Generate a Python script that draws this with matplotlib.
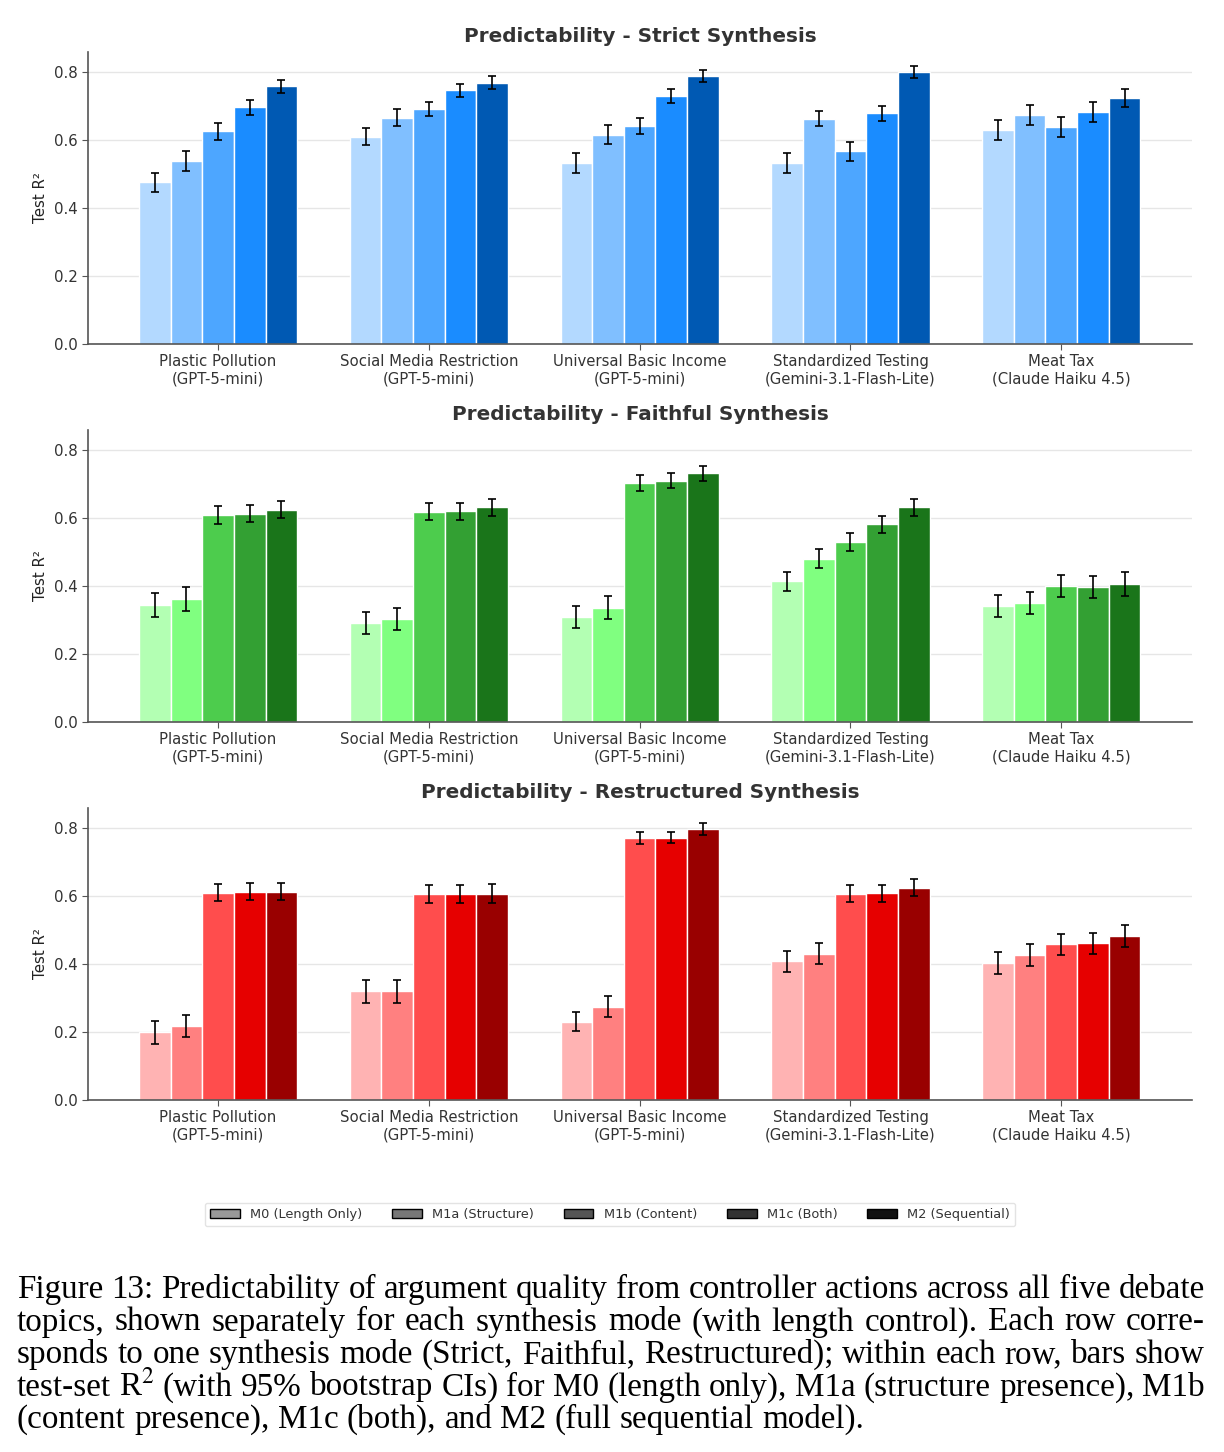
import numpy as np
import matplotlib
matplotlib.use("Agg")
import matplotlib.pyplot as plt
from matplotlib.patches import Patch

plt.rcParams['font.family'] = ['DejaVu Sans']
plt.rcParams['mathtext.fontset'] = 'stix'

# ---------------- data ----------------
topics = ["Plastic Pollution\n(GPT-5-mini)",
          "Social Media Restriction\n(GPT-5-mini)",
          "Universal Basic Income\n(GPT-5-mini)",
          "Standardized Testing\n(Gemini-3.1-Flash-Lite)",
          "Meat Tax\n(Claude Haiku 4.5)"]
models = ["M0 (Length Only)", "M1a (Structure)", "M1b (Content)", "M1c (Both)", "M2 (Sequential)"]
modes = ["Strict", "Faithful", "Restructured"]

# values[model][topic]
strict_vals = [
    [0.476, 0.611, 0.534, 0.534, 0.630],
    [0.538, 0.667, 0.617, 0.664, 0.675],
    [0.626, 0.693, 0.643, 0.567, 0.640],
    [0.697, 0.747, 0.730, 0.679, 0.683],
    [0.759, 0.770, 0.789, 0.800, 0.725],
]
strict_err = [
    [0.027, 0.026, 0.030, 0.029, 0.029],
    [0.029, 0.025, 0.028, 0.023, 0.029],
    [0.024, 0.021, 0.024, 0.029, 0.029],
    [0.023, 0.020, 0.020, 0.023, 0.029],
    [0.019, 0.018, 0.018, 0.018, 0.027],
]
faithful_vals = [
    [0.344, 0.292, 0.309, 0.415, 0.341],
    [0.362, 0.303, 0.337, 0.481, 0.350],
    [0.609, 0.619, 0.703, 0.531, 0.400],
    [0.614, 0.621, 0.711, 0.582, 0.397],
    [0.625, 0.632, 0.732, 0.632, 0.407],
]
faithful_err = [
    [0.035, 0.033, 0.033, 0.028, 0.033],
    [0.035, 0.032, 0.034, 0.028, 0.033],
    [0.026, 0.025, 0.023, 0.027, 0.032],
    [0.026, 0.025, 0.022, 0.026, 0.033],
    [0.025, 0.025, 0.022, 0.024, 0.036],
]
restructured_vals = [
    [0.199, 0.320, 0.230, 0.409, 0.404],
    [0.219, 0.320, 0.275, 0.431, 0.427],
    [0.610, 0.607, 0.772, 0.607, 0.459],
    [0.613, 0.607, 0.773, 0.609, 0.461],
    [0.614, 0.608, 0.798, 0.625, 0.483],
]
restructured_err = [
    [0.033, 0.034, 0.028, 0.031, 0.032],
    [0.032, 0.034, 0.031, 0.031, 0.033],
    [0.025, 0.026, 0.017, 0.025, 0.031],
    [0.025, 0.026, 0.016, 0.025, 0.031],
    [0.025, 0.027, 0.017, 0.025, 0.031],
]

blue_colors = ["#b3d9ff", "#80bfff", "#4da6ff", "#1a8cff", "#0059b3"]
green_colors = ["#b3ffb3", "#80ff80", "#4dcc4d", "#33a033", "#1a751a"]
red_colors = ["#ffb3b3", "#ff8080", "#ff4d4d", "#e60000", "#990000"]
legend_colors = ["#999999", "#777777", "#555555", "#333333", "#111111"]

caption_lines = [
    "Figure 13: Predictability of argument quality from controller actions across all five debate",
    "topics, shown separately for each synthesis mode (with length control).  Each row corre-",
    "sponds to one synthesis mode (Strict, Faithful, Restructured); within each row, bars show",
    "test-set R$^2$ (with 95% bootstrap CIs) for M0 (length only), M1a (structure presence), M1b",
    "(content presence), M1c (both), and M2 (full sequential model).",
]

# ---------------- figure ----------------
W, H = 1224, 1452
fig = plt.figure(figsize=(W / 100, H / 100), dpi=100)

panels = [
    (strict_vals, strict_err, blue_colors, 344),
    (faithful_vals, faithful_err, green_colors, 722),
    (restructured_vals, restructured_err, red_colors, 1100),
]
ax_left, ax_right, ax_hpx = 88, 1192, 292
x = np.arange(len(topics))
bw = 0.15
spine_c = "#555555"
text_c = "#333333"

for (vals, errs, cols, bottom_px), mode in zip(panels, modes):
    ax = fig.add_axes([ax_left / W, 1 - bottom_px / H, (ax_right - ax_left) / W, ax_hpx / H])
    for i in range(len(models)):
        ax.bar(x + (i - 2) * bw, vals[i], bw, color=cols[i], edgecolor="white",
               linewidth=1.0, zorder=2)
        ax.errorbar(x + (i - 2) * bw, vals[i], yerr=errs[i], fmt="none",
                    ecolor="black", elinewidth=1.2, capsize=3, capthick=1.2, zorder=3)
    ax.set_ylim(0, 0.86)
    ax.set_xlim(-0.617, 4.62)
    ax.set_yticks([0.0, 0.2, 0.4, 0.6, 0.8])
    ax.set_xticks(x)
    ax.set_xticklabels(topics, fontsize=10.7, color=text_c)
    ax.tick_params(axis="y", labelsize=10.8, colors=spine_c, labelcolor=text_c, length=4)
    ax.tick_params(axis="x", colors=spine_c, labelcolor=text_c, length=4)
    ax.set_ylabel("Test R²", fontsize=10.8, color="#222222")
    ax.set_title(f"Predictability - {mode} Synthesis", fontsize=14.4, fontweight="bold",
                 color=text_c, pad=7)
    ax.grid(axis="y", color="#e6e6e6", linewidth=1.0, zorder=0)
    ax.set_axisbelow(True)
    for s in ["top", "right"]:
        ax.spines[s].set_visible(False)
    for s in ["left", "bottom"]:
        ax.spines[s].set_color(spine_c)
        ax.spines[s].set_linewidth(1.2)

handles = [Patch(facecolor=c, edgecolor="black", linewidth=1.0, label=m)
           for c, m in zip(legend_colors, models)]
fig.legend(handles=handles, loc="center", bbox_to_anchor=(0.4985, 1 - 1214.5 / H),
           ncol=5, fontsize=9.3, frameon=True, edgecolor="#dddddd", fancybox=True,
           handlelength=2.3, handleheight=0.7, columnspacing=2.3, borderpad=0.4,
           handletextpad=0.8, labelcolor="#333333")

# ---------------- justified caption ----------------
serif = ["Liberation Serif", "DejaVu Serif"]
renderer = fig.canvas.get_renderer()


def measure(s, fs):
    t = fig.text(0, 0, s, fontsize=fs, family=serif)
    w = t.get_window_extent(renderer).width
    t.remove()
    return w


cap_left, cap_right = 17, 1205
target = cap_right - cap_left
baselines = [1298, 1330.5, 1363, 1395.5, 1428]


def layout_gaps(fs):
    sp = measure("a b", fs) - measure("ab", fs)
    res = []
    for li, line in enumerate(caption_lines):
        words = line.split()
        widths = [measure(wd, fs) for wd in words]
        if li < len(caption_lines) - 1 and len(words) > 1:
            gap = (target - sum(widths)) / (len(words) - 1)
        else:
            gap = sp
        res.append((words, widths, gap))
    return sp, res


fs0 = 24.0
nat = [measure(l, fs0) for l in caption_lines[:-1]]
fs = fs0 * target / np.mean(nat)
space_w, lay = layout_gaps(fs)
while min(g for _, _, g in lay[:-1]) < 0.7 * space_w:
    fs *= 0.99
    space_w, lay = layout_gaps(fs)

for li, (words, widths, gap) in enumerate(lay):
    xp = cap_left
    for wd, wdt in zip(words, widths):
        fig.text(xp / W, 1 - baselines[li] / H, wd, fontsize=fs, family=serif,
                 ha="left", va="baseline", color="black")
        xp += wdt + gap

fig.savefig("out.png", dpi=100)
